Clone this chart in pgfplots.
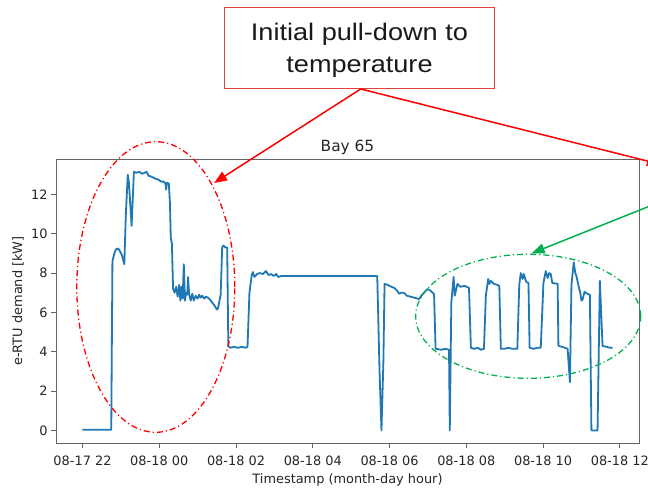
\documentclass[border=0pt]{standalone}
\usepackage{fontspec}
\setmainfont{DejaVu Sans}
\newfontfamily\arialf{Liberation Sans}
\usepackage{pgfplots}
\usepackage{pgfplotstable}
\pgfplotsset{compat=1.18}
\usetikzlibrary{arrows.meta}
\definecolor{mplblue}{RGB}{31,119,180}
\definecolor{annred}{RGB}{255,0,0}
\definecolor{boxred}{RGB}{228,64,64}
\definecolor{anngreen}{RGB}{0,176,80}
\definecolor{spine}{RGB}{100,100,100}

\pgfplotstableread{
h v
-2.00 0.03
-1.60 0.03
-1.25 0.03
-1.22 8.6
-1.17 9.0
-1.13 9.2
-1.07 9.25
-1.02 9.1
-0.97 8.9
-0.91 8.45
-0.87 11.0
-0.82 13.0
-0.79 12.6
-0.72 10.4
-0.66 13.15
-0.60 13.1
-0.52 13.15
-0.45 13.05
-0.38 13.1
-0.33 13.15
-0.28 12.95
-0.20 12.9
-0.10 12.8
-0.02 12.75
0.05 12.65
0.12 12.65
0.16 12.55
0.18 12.25
0.20 12.6
0.25 12.55
0.28 11.5
0.30 9.8
0.33 9.5
0.36 7.2
0.40 7.0
0.44 7.3
0.48 6.8
0.52 7.4
0.55 6.6
0.58 7.3
0.61 6.7
0.64 8.45
0.67 6.6
0.70 7.0
0.73 6.9
0.75 7.8
0.78 6.9
0.82 6.6
0.86 6.95
0.90 6.6
0.95 6.85
1.00 6.7
1.04 6.9
1.08 6.75
1.12 6.85
1.17 6.7
1.22 6.8
1.27 6.75
1.32 6.65
1.38 6.5
1.44 6.35
1.50 6.15
1.53 6.2
1.57 6.6
1.60 6.9
1.64 9.3
1.67 9.4
1.72 9.3
1.77 9.3
1.80 4.3
1.85 4.2
1.95 4.25
2.05 4.2
2.15 4.25
2.25 4.2
2.30 4.25
2.35 7.0
2.41 7.9
2.44 8.05
2.48 7.8
2.55 7.95
2.62 8.0
2.70 7.95
2.78 8.1
2.85 7.9
2.92 7.95
2.98 7.85
3.05 7.95
3.10 7.8
3.18 7.85
3.25 7.85
4.50 7.85
5.68 7.85
5.74 3.0
5.79 0.0
5.84 3.5
5.87 7.45
5.95 7.4
6.05 7.3
6.12 7.25
6.20 7.1
6.25 6.95
6.30 7.0
6.38 7.0
6.45 6.85
6.55 6.8
6.64 6.75
6.77 6.68
6.85 6.9
6.99 7.19
7.07 7.1
7.16 6.93
7.20 4.15
7.35 4.1
7.45 4.15
7.55 4.1
7.57 0.0
7.61 6.5
7.67 7.8
7.70 6.85
7.77 7.45
7.85 7.3
7.95 7.35
8.07 7.25
8.12 4.2
8.20 4.15
8.30 4.2
8.38 4.1
8.46 4.15
8.51 6.85
8.57 7.7
8.60 7.45
8.64 7.6
8.72 7.45
8.81 7.4
8.86 7.35
8.90 4.15
9.00 4.15
9.10 4.2
9.20 4.15
9.33 4.15
9.38 7.4
9.42 8.0
9.47 7.7
9.50 7.95
9.56 7.55
9.62 7.5
9.65 4.2
9.75 4.15
9.85 4.2
9.94 4.2
10.01 7.5
10.07 8.1
10.12 7.75
10.16 8.0
10.20 7.95
10.24 7.5
10.38 7.45
10.40 4.3
10.50 4.25
10.64 4.15
10.70 2.45
10.74 7.4
10.80 8.55
10.84 8.0
10.87 7.85
10.93 7.3
10.97 7.0
11.00 6.6
11.03 6.65
11.08 7.05
11.15 6.95
11.22 6.9
11.26 0.0
11.42 0.0
11.48 7.6
11.55 4.3
11.65 4.25
11.75 4.2
11.81 4.2
}\datatable

\begin{document}
\begin{tikzpicture}
\clip (0,0) rectangle (648bp,488bp);
\useasboundingbox (0,0) rectangle (648bp,488bp);
\begin{axis}[
  at={(56bp,45bp)}, anchor=south west,
  scale only axis, width=583bp, height=284bp,
  xmin=-2.69, xmax=12.5, ymin=-0.64, ymax=13.8,
  xtick={-2,0,2,4,6,8,10,12},
  xticklabels={08-17 22,08-18 00,08-18 02,08-18 04,08-18 06,08-18 08,08-18 10,08-18 12},
  ytick={0,2,4,6,8,10,12},
  tick align=outside, tick pos=left,
  major tick length=5bp,
  axis line style={spine, line width=0.9bp},
  every tick/.style={spine, line width=0.9bp},
  /pgf/number format/assume math mode=true,
  ticklabel style={font=\fontsize{12.9bp}{15bp}\selectfont, text=black!85},
  xticklabel style={yshift=-4bp},
  title={Bay 65},
  title style={font=\fontsize{15.4bp}{18bp}\selectfont, text=black!85, yshift=-5bp},
  xlabel={Timestamp (month-day hour)},
  ylabel={e-RTU demand [kW]},
  label style={font=\fontsize{12.9bp}{15bp}\selectfont, text=black!85},
  xlabel style={at={(axis description cs:0.5,-0.13)}, anchor=center},
  ylabel style={at={(axis description cs:-0.065,0.5)}, anchor=center, rotate=0},
]
\addplot[mplblue, line width=1.8bp, line join=round, mark=none] table[x=h,y=v]{\datatable};
\end{axis}
\begin{scope}[x=1bp, y=-1bp, yshift=488bp]
  \draw[boxred, line width=1bp] (224.4,7.3) rectangle (494.6,89);
  \node[font=\arialf\fontsize{24bp}{32bp}\selectfont, xscale=1.13, align=center, text=black!90] at (359.5,50.5) {Initial pull-down to\\temperature};
  \draw[annred, line width=1.5bp, -{Triangle[length=13bp,width=10bp]}] (360.7,89) -- (214,183);
  \draw[annred, line width=1.5bp, -{Triangle[length=13bp,width=10bp]}] (360.7,89) -- (660,164.2);
  \draw[anngreen, line width=1.5bp, -{Triangle[length=13bp,width=10bp]}] (700,186) -- (531.7,253.3);
  \draw[annred, line width=1.3bp, dash pattern=on 6bp off 3bp on 1.2bp off 3bp] (155.8,287) ellipse [x radius=79bp, y radius=145.3bp];
  \draw[anngreen, line width=1.3bp, dash pattern=on 6bp off 3bp on 1.2bp off 3bp] (528.2,316.3) ellipse [x radius=112.5bp, y radius=62bp];
\end{scope}
\end{tikzpicture}
\end{document}
